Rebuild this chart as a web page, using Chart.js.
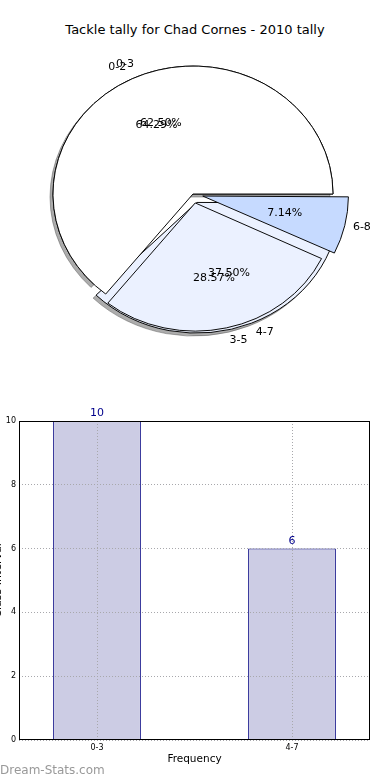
<!DOCTYPE html>
<html>
<head>
<meta charset="utf-8">
<script src="https://cdn.jsdelivr.net/npm/chart.js@4.4.0/dist/chart.umd.min.js"></script>
<style>
  body { margin: 0; background: #fff; width: 390px; height: 780px; position: relative; overflow: hidden; font-family: "DejaVu Sans", sans-serif; }
  .abs { position: absolute; }
  #title { left: 0; top: 22px; width: 390px; text-align: center; font-size: 13px; line-height: 16px; color: #000; }
  #mark { left: 0; top: 762px; font-size: 12px; line-height: 16px; color: #999; }
</style>
</head>
<body>
<div id="title" class="abs">Tackle tally for Chad Cornes - 2010 tally</div>
<canvas id="pieA" class="abs" style="left:0;top:0" width="390" height="390"></canvas>
<canvas id="pieB" class="abs" style="left:0;top:0" width="390" height="390"></canvas>
<canvas id="bar" class="abs" style="left:-14px;top:400px" width="404" height="380"></canvas>
<div id="mark" class="abs">Dream-Stats.com</div>
<script>
// pie 1 : 4 wide bins
var binsA = ['0-3', '4-7'];
var countsA = [10, 6];
// pie 2 : 3 wide bins
var binsB = ['0-2', '3-5', '6-8'];
var countsB = [9, 4, 1];
// bar chart
var barCats = ['0-3', '4-7'];
var barVals = [10, 6];
var yTicks = [0, 2, 4, 6, 8, 10];

var FONT = '"DejaVu Sans", sans-serif';
var sliceColors = ['#ffffff', '#ebf1ff', '#c6daff'];
var squash = 0.914;   // matplotlib axes were not square -> pie is an ellipse

function squashCtx(chart, ctx) {
    var a = chart.chartArea;
    var cy = (a.top + a.bottom) / 2;
    ctx.translate(0, cy);
    ctx.scale(1, squash);
    ctx.translate(0, -cy);
}

var squashPlugin = {
    id: 'squash',
    beforeDatasetsDraw: function (chart) { chart.ctx.save(); squashCtx(chart, chart.ctx); },
    afterDatasetsDraw: function (chart) { chart.ctx.restore(); }
};

// grey shadow under the wedges, drawn before them
var shadowPlugin = {
    id: 'shadow',
    beforeDatasetsDraw: function (chart) {
        var ctx = chart.ctx;
        ctx.save();
        ctx.translate(-3, 3);
        squashCtx(chart, ctx);
        chart.getDatasetMeta(0).data.forEach(function (arc) {
            var o = arc.options;
            arc.options = Object.assign({}, o, { backgroundColor: 'rgba(70,70,70,0.45)', borderColor: 'rgba(70,70,70,0.45)' });
            arc.draw(ctx);
            arc.options = o;
        });
        ctx.restore();
    }
};

function pieConfig(labels, counts, plugins) {
    var n = labels.length;
    var rev = function (a) { return a.slice().reverse(); };  // matplotlib goes counter-clockwise
    return {
        type: 'pie',
        data: {
            labels: rev(labels),
            datasets: [{
                data: rev(counts),
                backgroundColor: rev(sliceColors.slice(0, n)),
                borderColor: '#000',
                borderWidth: 1,
                offset: function (ctx) { return ctx.dataIndex === n - 1 ? 0 : 40; }
            }]
        },
        options: {
            responsive: false,
            animation: false,
            rotation: 90,
            radius: 140,
            layout: { padding: { right: 4, bottom: 2 } },
            plugins: { legend: { display: false }, tooltip: { enabled: false } }
        },
        plugins: plugins
    };
}

var pieA = new Chart(document.getElementById('pieA'), pieConfig(binsA, countsA, [shadowPlugin, squashPlugin]));

// labels of both pies sit on top of everything
var pieLabels = {
    id: 'pieLabels',
    afterDatasetsDraw: function (chart) {
        var ctx = chart.ctx;
        ctx.save();
        ctx.font = '11px ' + FONT;
        ctx.fillStyle = '#000';
        ctx.textBaseline = 'middle';
        [pieA, chart].forEach(function (c) {
            var meta = c.getDatasetMeta(0);
            var data = c.data.datasets[0].data;
            var total = data.reduce(function (s, v) { return s + v; }, 0);
            meta.data.forEach(function (arc, i) {
                var mid = (arc.startAngle + arc.endAngle) / 2;
                var off = (arc.options.offset || 0) / 4;
                var r = arc.outerRadius;
                var at = function (d) {
                    return [arc.x + (d + off) * Math.cos(mid), arc.y + (d + off) * Math.sin(mid) * squash];
                };
                var p = at(r * 1.1);
                ctx.textAlign = p[0] >= arc.x ? 'left' : 'right';
                ctx.fillText(c.data.labels[i], p[0], p[1]);
                var q = at(r * 0.6);
                ctx.textAlign = 'center';
                ctx.fillText((data[i] / total * 100).toFixed(2) + '%', q[0], q[1]);
            });
        });
        ctx.restore();
    }
};

new Chart(document.getElementById('pieB'), pieConfig(binsB, countsB, [squashPlugin, pieLabels]));

// bar chart
var frame = {
    id: 'frame',
    afterDraw: function (chart) {
        var a = chart.chartArea, ctx = chart.ctx;
        ctx.save();
        ctx.strokeStyle = '#000';
        ctx.lineWidth = 1;
        ctx.strokeRect(Math.round(a.left) + 0.5, Math.round(a.top) + 0.5, Math.round(a.right - a.left) - 1, Math.round(a.bottom - a.top) - 1);
        ctx.restore();
    }
};

var valueLabels = {
    id: 'valueLabels',
    afterDatasetsDraw: function (chart) {
        var ctx = chart.ctx;
        ctx.save();
        ctx.font = '11px ' + FONT;
        ctx.fillStyle = '#00008b';
        ctx.textAlign = 'center';
        ctx.textBaseline = 'bottom';
        chart.getDatasetMeta(0).data.forEach(function (bar, i) {
            ctx.fillText(barVals[i], bar.x, bar.y - 2);
        });
        ctx.restore();
    }
};

new Chart(document.getElementById('bar'), {
    type: 'bar',
    data: {
        datasets: [{
            data: barVals.map(function (v, i) { return { x: i, y: v }; }),
            backgroundColor: '#ccCCe4',
            borderColor: '#000080',
            borderWidth: 1,
            barPercentage: 0.45,
            categoryPercentage: 1
        }]
    },
    options: {
        responsive: false,
        animation: false,
        layout: { padding: { top: 21, right: 20, bottom: 10, left: 0 } },
        plugins: { legend: { display: false }, tooltip: { enabled: false } },
        scales: {
            x: {
                type: 'linear',
                min: -0.4,
                max: 1.4,
                offset: false,
                afterBuildTicks: function (s) { s.ticks = barCats.map(function (c, i) { return { value: i }; }); },
                afterFit: function (s) { s.height = 30; },
                ticks: { callback: function (v) { return barCats[v]; }, font: { size: 8, family: FONT }, color: '#000', padding: 3, maxRotation: 0 },
                grid: { color: '#a8a8ac', drawTicks: false, offset: false, z: 1 },
                border: { display: false, dash: [1, 2] },
                title: { display: true, text: 'Frequency', font: { size: 10.5, family: FONT }, color: '#000', padding: { top: 2, bottom: 4 } }
            },
            y: {
                min: 0,
                max: 10,
                afterBuildTicks: function (s) { s.ticks = yTicks.map(function (v) { return { value: v }; }); },
                afterFit: function (s) { s.width = 33; },
                ticks: { font: { size: 8, family: FONT }, color: '#000', padding: 3 },
                grid: { color: '#a8a8ac', drawTicks: false, z: 1 },
                border: { display: false, dash: [1, 2] },
                title: { display: true, text: 'Class Interval', font: { size: 11, family: FONT }, color: '#000', padding: { top: 6, bottom: 0 } }
            }
        }
    },
    plugins: [frame, valueLabels]
});
</script>
</body>
</html>
